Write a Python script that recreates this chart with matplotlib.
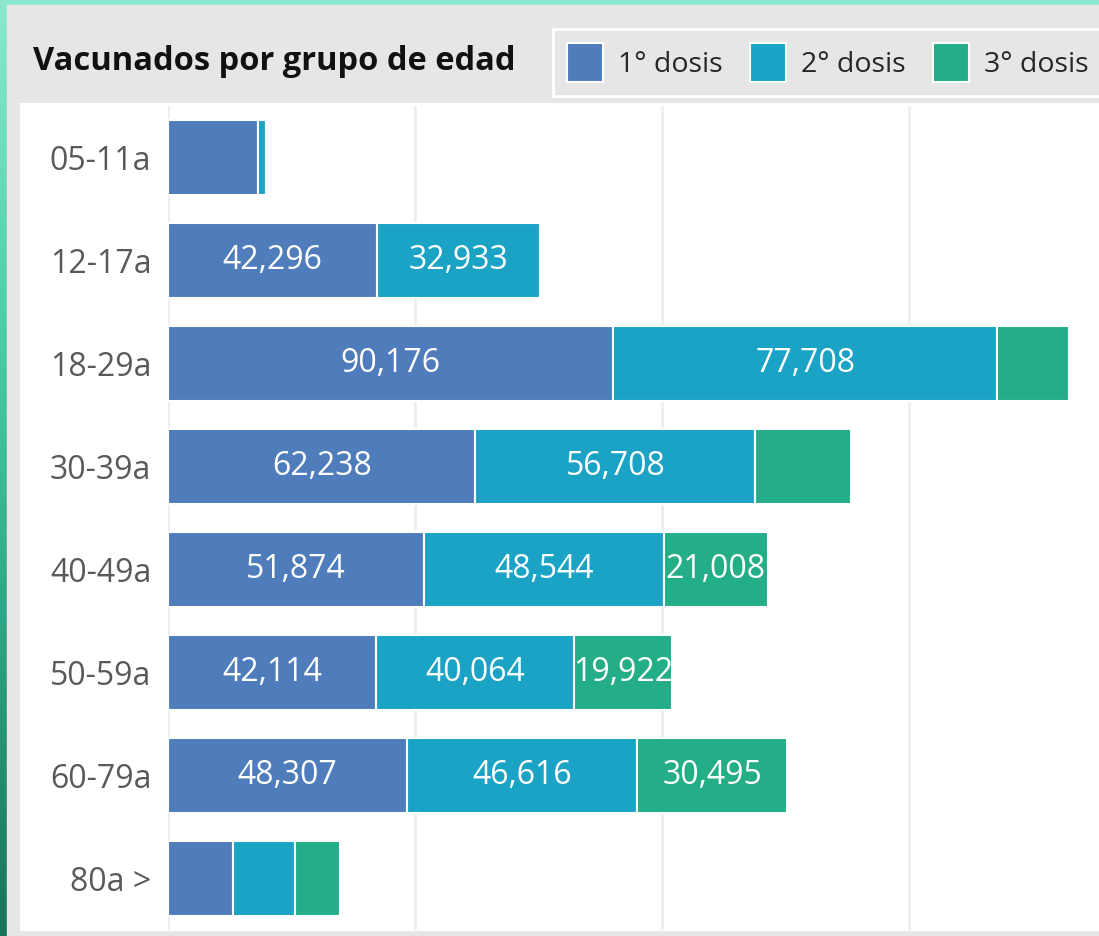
# -*- coding: utf-8 -*-
"""
Vacunados por grupo de edad -- barras horizontales apiladas por dosis
"""
import matplotlib
matplotlib.use("Agg")
import numpy as np
import matplotlib.pyplot as plt
from matplotlib.colors import LinearSegmentedColormap
from matplotlib.patches import Rectangle

plt.rcParams["font.family"] = ["Open Sans", "DejaVu Sans"]

grupos = ["05-11a", "12-17a", "18-29a", "30-39a", "40-49a", "50-59a", "60-79a", "80a >"]
dosis1 = [18200, 42296, 90176, 62238, 51874, 42114, 48307, 13100]
dosis2 = [1600, 32933, 77708, 56708, 48544, 40064, 46616, 12700]
dosis3 = [0, 0, 14600, 19400, 21008, 19922, 30495, 9100]
series = ["1° dosis", "2° dosis", "3° dosis"]
COLORS = ["#4F7CBA", "#1BA3C6", "#24AE88"]

W, H = 1099, 936
fig = plt.figure(figsize=(W / 100, H / 100), dpi=100)

# ── fondo: franja degradada + panel gris + zona blanca ─────────────
bg = fig.add_axes([0, 0, 1, 1], zorder=-10)
bg.set_xlim(0, W)
bg.set_ylim(H, 0)
bg.axis("off")
bg.add_patch(Rectangle((0, 0), W, H, color="#8BE8CF"))
grad = LinearSegmentedColormap.from_list("g", ["#8BE8CF", "#4DCFA8", "#2EA584", "#1A7358"])
bg.imshow(np.linspace(0, 1, 200).reshape(-1, 1), cmap=grad, aspect="auto",
          extent=(0, 7, H, 0), zorder=1)
bg.add_patch(Rectangle((7, 5), W, H, color="#E6E6E6", zorder=2))
bg.add_patch(Rectangle((20, 103), W, 827, color="white", zorder=3))

# ── gráfico ───────────────────────────────────────────────────────
ax = fig.add_axes([168 / W, 6 / H, 1 - 168 / W, (830 - 6) / H])
ax.set_facecolor("none")
y = np.arange(len(grupos))
left = np.zeros(len(grupos))
for vals, name, col in zip([dosis1, dosis2, dosis3], series, COLORS):
    vals = np.array(vals)
    bars = ax.barh(y, vals, left=left, height=0.73, color=col,
                   edgecolor="white", linewidth=1.5, label=name, zorder=3)
    for bar, v, l in zip(bars, vals, left):
        if v >= 19700:
            t = ax.text(l + v / 2, bar.get_y() + bar.get_height() / 2,
                        f"{v:,}", ha="center", va="center",
                        fontsize=23, color="white", zorder=4)
            t.set_clip_path(bar)
    left += vals

ax.set_xlim(0, 188500)
ax.set_ylim(len(grupos) - 0.5, -0.5)
ax.set_xticks([0, 50000, 100000, 150000])
ax.xaxis.grid(True, color="#EEEEEE", linewidth=2)
ax.tick_params(axis="x", bottom=False, labelbottom=False)
ax.set_yticks(y)
ax.set_yticklabels(grupos, fontsize=23, color="#595959")
ax.tick_params(axis="y", length=0, pad=12)
for s in ax.spines.values():
    s.set_visible(False)

# ── título y leyenda ─────────────────────────────────────────────
fig.text(33 / W, 1 - 61 / H, "Vacunados por grupo de edad", fontsize=23.5,
         fontweight="bold", color="#111111", ha="left", va="center")
handles, labels = ax.get_legend_handles_labels()
leg = fig.legend(handles, labels, ncol=3, loc="upper left",
                 bbox_to_anchor=(553 / W, 1 - 29 / H), fontsize=20.5,
                 frameon=True, fancybox=False, edgecolor="white",
                 facecolor="#E6E6E6", framealpha=1,
                 handlelength=1.25, handleheight=1.7, handletextpad=0.55,
                 columnspacing=0.95, borderpad=0.5, borderaxespad=0)
leg.get_frame().set_linewidth(2)
for txt in leg.get_texts():
    txt.set_color("#262626")

fig.savefig("out.png", dpi=100)
